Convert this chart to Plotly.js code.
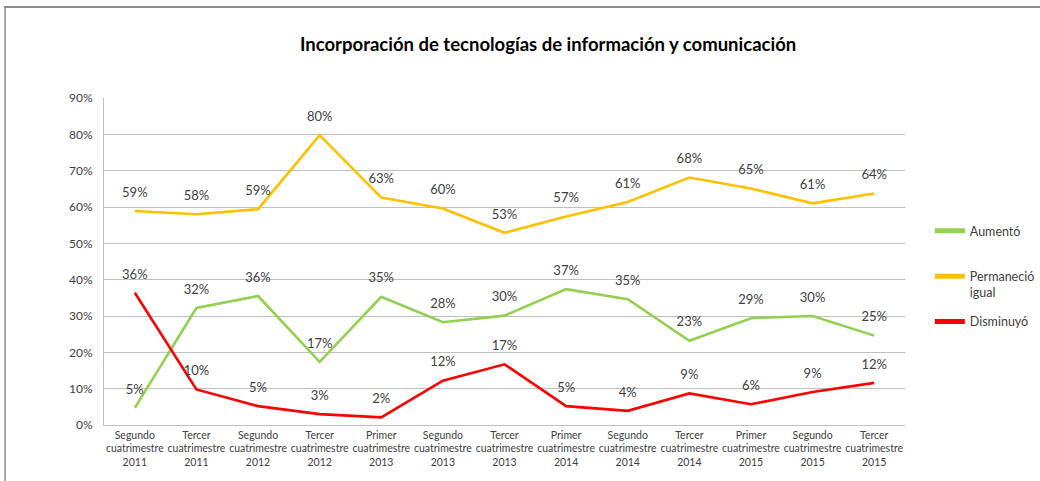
<!DOCTYPE html>
<html>
<head>
<meta charset="utf-8">
<script src="https://cdn.plot.ly/plotly-3.0.1.min.js"></script>
<style>html,body{margin:0;padding:0;background:#fff;}#chart{width:1040px;height:481px;}</style>
</head>
<body>
<div id="chart"></div>
<script>
const categories = [
  "Segundo<br>cuatrimestre<br>2011", "Tercer<br>cuatrimestre<br>2011", "Segundo<br>cuatrimestre<br>2012",
  "Tercer<br>cuatrimestre<br>2012", "Primer<br>cuatrimestre<br>2013", "Segundo<br>cuatrimestre<br>2013",
  "Tercer<br>cuatrimestre<br>2013", "Primer<br>cuatrimestre<br>2014", "Segundo<br>cuatrimestre<br>2014",
  "Tercer<br>cuatrimestre<br>2014", "Primer<br>cuatrimestre<br>2015", "Segundo<br>cuatrimestre<br>2015",
  "Tercer<br>cuatrimestre<br>2015"
];
const aumento =    [4.7, 32.2, 35.5, 17.4, 35.3, 28.3, 30.1, 37.4, 34.6, 23.2, 29.4, 30.0, 24.6];
const permanecio = [58.9, 58.0, 59.4, 79.8, 62.6, 59.6, 52.9, 57.4, 61.4, 68.1, 65.1, 61.0, 63.7];
const disminuyo =  [36.4, 9.8, 5.2, 3.0, 2.1, 12.2, 16.7, 5.2, 3.9, 8.7, 5.7, 9.1, 11.6];
const seriesNames = ["Aumentó", "Permaneció<br>igual", "Disminuyó"];
const seriesColors = ["#92d050", "#ffc000", "#ff0000"];
const yTicks = [0, 10, 20, 30, 40, 50, 60, 70, 80, 90];

const FONT = "Lato, 'Open Sans', sans-serif";
const legendIds = ["legend", "legend2", "legend3"];
const legendY = [0.593, 0.429, 0.315];
const xIdx = categories.map((c, i) => i);
const data = [aumento, permanecio, disminuyo].map((vals, k) => ({
  type: "scatter",
  mode: "lines+markers+text",
  x: xIdx,
  y: vals,
  name: seriesNames[k],
  legend: legendIds[k],
  line: {color: seriesColors[k], width: 2.6},
  marker: {size: 16, color: "rgba(0,0,0,0)", line: {width: 0}},
  texttemplate: "%{y:.0f}%",
  textposition: "top center",
  textfont: {family: FONT, size: 13, color: "#404040"},
  cliponaxis: false,
  hoverinfo: "skip"
}));

const legendBase = {
  x: 1.031, xanchor: "left", yanchor: "middle",
  valign: "top",
  font: {family: FONT, size: 12.5, color: "#404040"},
  bgcolor: "rgba(0,0,0,0)",
  itemsizing: "constant"
};

const layout = {
  width: 1040, height: 481,
  paper_bgcolor: "#ffffff", plot_bgcolor: "#ffffff",
  margin: {l: 104, r: 135, t: 98, b: 56, autoexpand: false},
  font: {family: FONT, color: "#404040"},
  title: {
    text: "<b>Incorporación de tecnologías de información y comunicación</b>",
    font: {family: FONT, size: 18.5, color: "#000000"},
    xref: "container", x: 0.527, xanchor: "center",
    yref: "container", y: 1 - 45/481, yanchor: "middle"
  },
  xaxis: {
    type: "linear",
    range: [-0.5, 12.5],
    tickmode: "array",
    tickvals: xIdx,
    ticktext: categories,
    showgrid: false,
    zeroline: false,
    showline: true, linecolor: "#bfbfbf", linewidth: 1,
    ticks: "", tickfont: {family: FONT, size: 10.5, color: "#404040"},
    automargin: false,
    fixedrange: true
  },
  yaxis: {
    range: [0, 90],
    tickmode: "array",
    tickvals: yTicks,
    ticktext: yTicks.map(v => v + "%"),
    showgrid: true, gridcolor: "#bfbfbf", gridwidth: 1,
    zeroline: false,
    showline: true, linecolor: "#bfbfbf", linewidth: 1,
    ticks: "", ticklabelstandoff: 8,
    tickfont: {family: FONT, size: 12, color: "#404040"},
    automargin: false,
    fixedrange: true
  },
  showlegend: true,
  legend: Object.assign({}, legendBase, {y: legendY[0]}),
  legend2: Object.assign({}, legendBase, {y: legendY[1]}),
  legend3: Object.assign({}, legendBase, {y: legendY[2]}),
  shapes: [
    {type: "line", xref: "paper", yref: "paper", x0: -0.125, x1: 1.2, y0: 1.278, y1: 1.278, line: {color: "#8c8c8c", width: 2}},
    {type: "line", xref: "paper", yref: "paper", x0: -0.1235, x1: -0.1235, y0: 1.278, y1: -0.2, line: {color: "#8c8c8c", width: 1.5}}
  ]
};

Plotly.newPlot("chart", data, layout, {displayModeBar: false, staticPlot: true});
</script>
</body>
</html>
